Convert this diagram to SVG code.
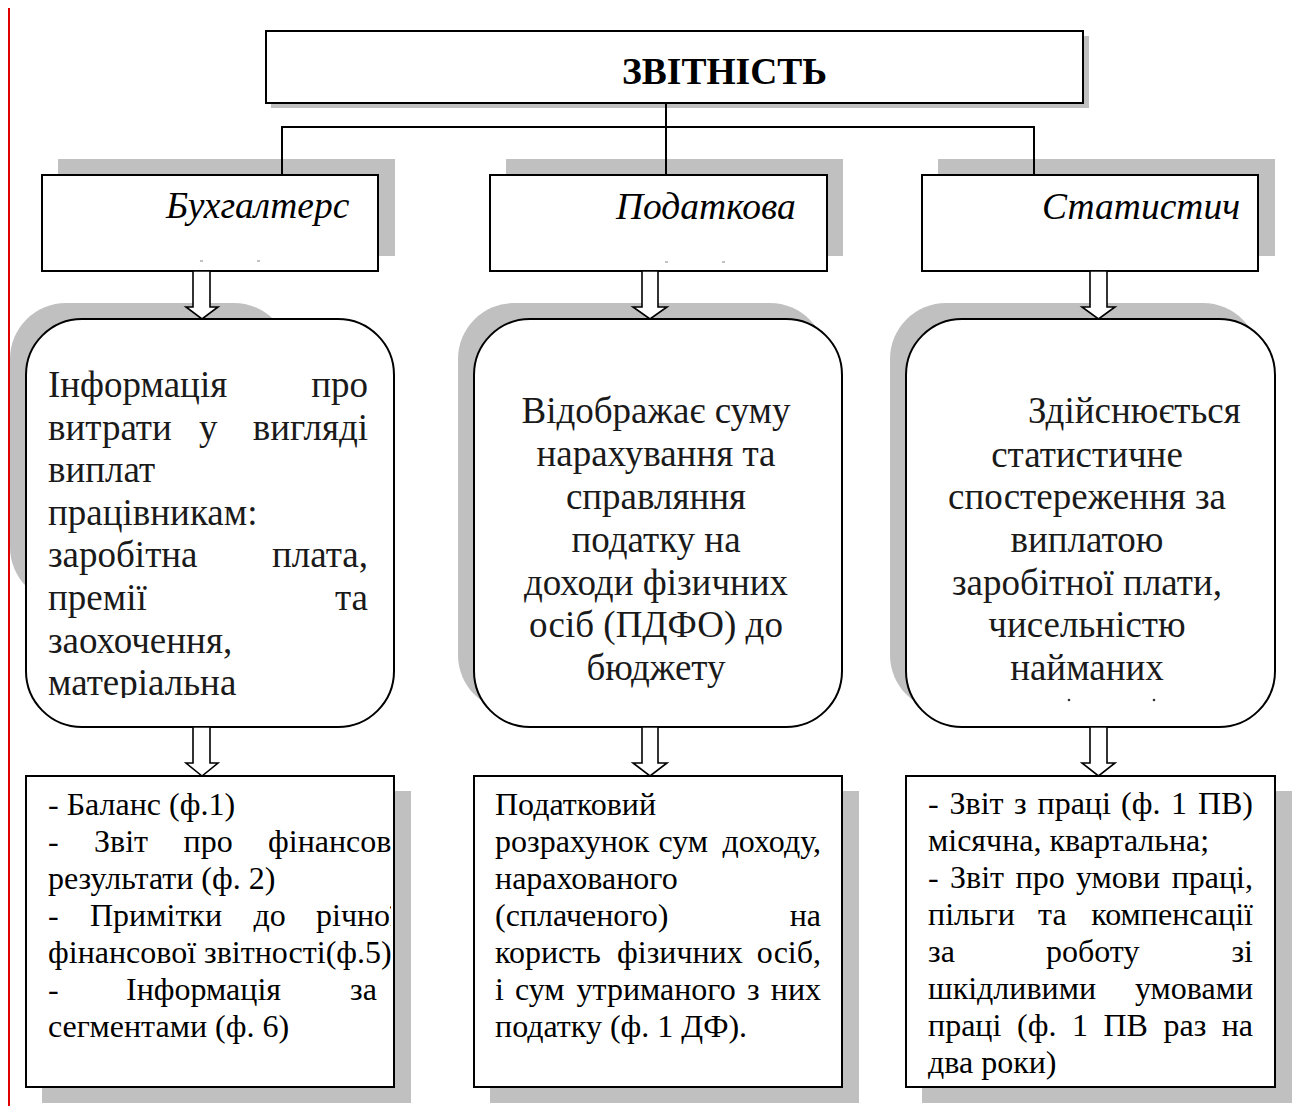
<svg xmlns="http://www.w3.org/2000/svg" width="1296" height="1106" viewBox="0 0 1296 1106">
<style>
.bg{fill:#ffffff}
.sh{fill:#c0c0c0}
.box{fill:#ffffff;stroke:#000;stroke-width:2}
.ln{fill:none;stroke:#000;stroke-width:2}
.arr{fill:#ffffff;stroke:#000;stroke-width:1.6;stroke-linejoin:miter}
.t{font-family:"Liberation Serif","Times New Roman",serif;fill:#1a1a1a}
.title{font-size:37.5px;font-weight:bold;fill:#000}
.cat{font-size:37.5px;font-style:italic;fill:#000}
.mid{font-size:37px}
.low{font-size:32px;fill:#000}
.e{text-anchor:end}
.c{text-anchor:middle}
.speck{stroke:#9a9a9a;stroke-width:1.2}
</style>
<defs>
<clipPath id="clipL"><rect x="26" y="320" width="368" height="378"/></clipPath>
<clipPath id="clipB"><rect x="26" y="777" width="365" height="309"/></clipPath>
</defs>
<rect class="bg" x="0" y="0" width="1296" height="1106"/>
<line x1="9" y1="8" x2="9" y2="1106" stroke="#e00000" stroke-width="2"/>

<g id="title">
<rect class="sh" x="271" y="36" width="818" height="72"/>
<rect class="box" x="266" y="31" width="817" height="72"/>
<text class="t title" x="622" y="84">ЗВІТНІСТЬ</text>
</g>

<g id="cat-buh">
<rect class="sh" x="58" y="159" width="337" height="97"/>
<rect class="box" x="42" y="175" width="336" height="96"/>
<text class="t cat" x="166" y="218">Бухгалтерс</text>
<line class="speck" x1="200" y1="261" x2="203" y2="261"/>
<line class="speck" x1="257" y1="261" x2="260" y2="261"/>
</g>

<g id="cat-pod">
<rect class="sh" x="506" y="159" width="337" height="97"/>
<rect class="box" x="490" y="175" width="337" height="96"/>
<text class="t cat" x="616" y="219">Податкова</text>
<line class="speck" x1="665" y1="262" x2="668" y2="262"/>
<line class="speck" x1="722" y1="262" x2="725" y2="262"/>
</g>

<g id="cat-stat">
<rect class="sh" x="938" y="159" width="337" height="97"/>
<rect class="box" x="922" y="175" width="336" height="96"/>
<text class="t cat" x="1042" y="219">Статистич</text>
</g>

<g id="info-buh">
<rect class="sh" x="10" y="303" width="280" height="300" rx="56" ry="56"/>
<rect class="box" x="26" y="319" width="368" height="408" rx="56" ry="56"/>
<g clip-path="url(#clipL)">
<text class="t mid" y="397"><tspan x="48">Інформація</tspan><tspan class="e" x="368">про</tspan></text>
<text class="t mid" y="439.6"><tspan x="48">витрати</tspan><tspan x="199">у</tspan><tspan class="e" x="368">вигляді</tspan></text>
<text class="t mid" x="48" y="482.2">виплат</text>
<text class="t mid" x="48" y="524.8">працівникам:</text>
<text class="t mid" y="567.4"><tspan x="48">заробітна</tspan><tspan class="e" x="368">плата,</tspan></text>
<text class="t mid" y="610"><tspan x="48">премії</tspan><tspan class="e" x="368">та</tspan></text>
<text class="t mid" x="48" y="652.6">заохочення,</text>
<text class="t mid" x="48" y="695.2">матеріальна</text>
</g>
</g>

<g id="info-pod">
<rect class="sh" x="458" y="303" width="368" height="408" rx="56" ry="56"/>
<rect class="box" x="474" y="319" width="368" height="408" rx="56" ry="56"/>
<text class="t mid c" x="656" y="423">Відображає суму</text>
<text class="t mid c" x="656" y="466">нарахування та</text>
<text class="t mid c" x="656" y="508.5">справляння</text>
<text class="t mid c" x="656" y="551.5">податку на</text>
<text class="t mid c" x="656" y="594.5">доходи фізичних</text>
<text class="t mid c" x="656" y="637">осіб (ПДФО) до</text>
<text class="t mid c" x="656" y="680">бюджету</text>
</g>

<g id="info-stat">
<rect class="sh" x="890" y="303" width="369" height="408" rx="56" ry="56"/>
<rect class="box" x="906" y="319" width="369" height="408" rx="56" ry="56"/>
<text class="t mid" x="1028" y="423">Здійснюється</text>
<text class="t mid c" x="1087" y="466.5">статистичне</text>
<text class="t mid c" x="1087" y="508.5">спостереження за</text>
<text class="t mid c" x="1087" y="551.5">виплатою</text>
<text class="t mid c" x="1087" y="595">заробітної плати,</text>
<text class="t mid c" x="1087" y="637">чисельністю</text>
<text class="t mid c" x="1087" y="680">найманих</text>
<circle cx="1069" cy="700" r="1.3" fill="#333"/>
<circle cx="1154" cy="700" r="1.3" fill="#333"/>
</g>

<g id="forms-buh">
<rect class="sh" x="42" y="791" width="369" height="312"/>
<rect class="box" x="26" y="776" width="368" height="311"/>
<g clip-path="url(#clipB)">
<text class="t low" x="48" y="815">- Баланс (ф.1)</text>
<text class="t low" y="852"><tspan x="48">-</tspan><tspan x="94">Звіт</tspan><tspan x="183.5">про</tspan><tspan x="268">фінансові</tspan></text>
<text class="t low" x="48" y="888.5">результати (ф. 2)</text>
<text class="t low" y="926"><tspan x="48">-</tspan><tspan x="90">Примітки</tspan><tspan x="253.5">до</tspan><tspan x="316">річної</tspan></text>
<text class="t low" x="48" y="963">фінансової звітності(ф.5)</text>
<text class="t low" y="1000"><tspan x="48">-</tspan><tspan x="126">Інформація</tspan><tspan x="350">за</tspan></text>
<text class="t low" x="48" y="1037">сегментами (ф. 6)</text>
</g>
</g>

<g id="forms-pod">
<rect class="sh" x="490" y="791" width="369" height="312"/>
<rect class="box" x="474" y="776" width="368" height="311"/>
<text class="t low" x="495" y="815">Податковий</text>
<text class="t low" y="852"><tspan x="495">розрахунок</tspan><tspan x="658.5">сум</tspan><tspan class="e" x="821">доходу,</tspan></text>
<text class="t low" x="495" y="888.5">нарахованого</text>
<text class="t low" y="926"><tspan x="495">(сплаченого)</tspan><tspan class="e" x="821">на</tspan></text>
<text class="t low" y="963"><tspan x="495">користь</tspan><tspan x="617">фізичних</tspan><tspan class="e" x="821">осіб,</tspan></text>
<text class="t low" y="1000"><tspan x="495">і</tspan><tspan x="515">сум</tspan><tspan x="576.5">утриманого</tspan><tspan x="747">з</tspan><tspan class="e" x="821">них</tspan></text>
<text class="t low" x="495" y="1037">податку (ф. 1 ДФ).</text>
</g>

<g id="forms-stat">
<rect class="sh" x="922" y="791" width="370" height="312"/>
<rect class="box" x="906" y="776" width="369" height="311"/>
<text class="t low" y="814"><tspan x="928">-</tspan><tspan x="949.5">Звіт</tspan><tspan x="1014">з</tspan><tspan x="1037.5">праці</tspan><tspan x="1121">(ф.</tspan><tspan x="1171">1</tspan><tspan class="e" x="1253">ПВ)</tspan></text>
<text class="t low" x="928" y="851">місячна, квартальна;</text>
<text class="t low" y="888"><tspan x="928">-</tspan><tspan x="950">Звіт</tspan><tspan x="1015.5">про</tspan><tspan x="1076">умови</tspan><tspan class="e" x="1253">праці,</tspan></text>
<text class="t low" y="925"><tspan x="928">пільги</tspan><tspan x="1038">та</tspan><tspan class="e" x="1253">компенсації</tspan></text>
<text class="t low" y="962"><tspan x="928">за</tspan><tspan x="1046">роботу</tspan><tspan class="e" x="1253">зі</tspan></text>
<text class="t low" y="999"><tspan x="928">шкідливими</tspan><tspan class="e" x="1253">умовами</tspan></text>
<text class="t low" y="1036"><tspan x="928">праці</tspan><tspan x="1017">(ф.</tspan><tspan x="1072">1</tspan><tspan x="1103.5">ПВ</tspan><tspan x="1163.5">раз</tspan><tspan class="e" x="1253">на</tspan></text>
<text class="t low" x="928" y="1073">два роки)</text>
</g>

<g id="connectors">
<line class="ln" x1="666" y1="103" x2="666" y2="175"/>
<polyline class="ln" points="282,175 282,127 1034,127 1034,175"/>
<polygon class="arr" points="193,271 210,271 210,307 218,307 202,319 186,307 193,307"/>
<polygon class="arr" points="642,271 658,271 658,307 667,307 650,319 633,307 642,307"/>
<polygon class="arr" points="1090,271 1107,271 1107,307 1115,307 1098.5,319 1082,307 1090,307"/>
<polygon class="arr" points="193,727 210,727 210,763 218,763 202,776 186,763 193,763"/>
<polygon class="arr" points="642,727 658,727 658,763 667,763 650,776 633,763 642,763"/>
<polygon class="arr" points="1090,727 1107,727 1107,763 1115,763 1098.5,776 1082,763 1090,763"/>
</g>
</svg>
